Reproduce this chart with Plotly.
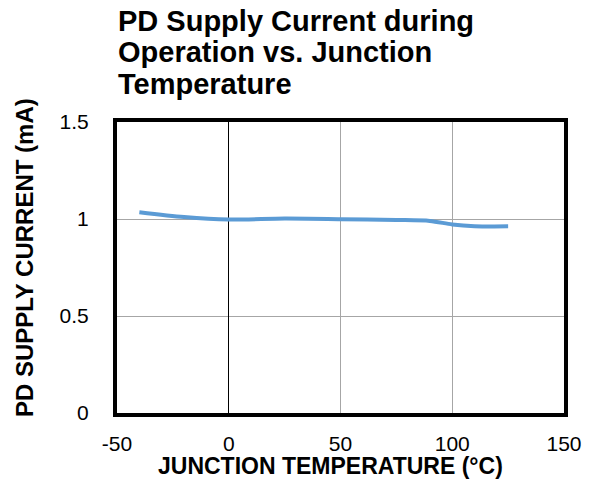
import plotly.graph_objects as go

temp_c = [-40, -20, 0, 25, 50, 75, 90, 100, 110, 125]
current_ma = [1.035, 1.01, 0.997, 1.002, 0.999, 0.995, 0.99, 0.972, 0.963, 0.962]

x_ticks = [-50, 0, 50, 100, 150]
y_ticks = [0, 0.5, 1, 1.5]
y_tick_text = ["0", "0.5", "1", "1.5"]
title_lines = ["PD Supply Current during", "Operation vs. Junction", "Temperature"]
x_title = "JUNCTION TEMPERATURE (°C)"
y_title = "PD SUPPLY CURRENT (mA)"

FONT = "Liberation Sans, Arial, sans-serif"

W, H = 594, 481
L, R, T, B = 117, 30, 122, 68
PW = W - L - R
PH = H - T - B

fig = go.Figure()
fig.add_trace(go.Scatter(
    x=temp_c, y=current_ma, mode="lines",
    line=dict(color="#5B9BD5", width=4, shape="spline", smoothing=0.8),
    showlegend=False, hoverinfo="skip",
))

fig.update_layout(
    width=W, height=H,
    margin=dict(l=L, r=R, t=T, b=B, autoexpand=False),
    paper_bgcolor="white", plot_bgcolor="white",
    font=dict(family=FONT, color="black"),
)

def px_x(fx):
    return (fx - L) / PW

def px_y(fy):
    return 1 + (T - fy) / PH

line_centers = [21.5, 52.5, 83.5]
for txt, fy in zip(title_lines, line_centers):
    fig.add_annotation(
        text=f"<b>{txt}</b>", xref="paper", yref="paper", borderpad=0,
        x=px_x(117), xanchor="left", y=px_y(fy), yanchor="middle",
        showarrow=False, font=dict(size=29, family=FONT, color="black"),
    )

fig.add_annotation(
    text=f"<b>{x_title}</b>", xref="paper", yref="paper", borderpad=0,
    x=px_x(330), xanchor="center", y=px_y(466), yanchor="middle",
    showarrow=False, font=dict(size=23, family=FONT, color="black"),
)
fig.add_annotation(
    text=f"<b>{y_title}</b>", xref="paper", yref="paper", textangle=-90, borderpad=0,
    x=px_x(24), xanchor="center", y=px_y(258), yanchor="middle",
    showarrow=False, font=dict(size=24, family=FONT, color="black"),
)

fig.update_xaxes(
    range=[-50, 150], tickvals=x_ticks, ticktext=[str(v) for v in x_ticks],
    showgrid=True, gridcolor="#A6A6A6", gridwidth=1,
    zeroline=True, zerolinecolor="black", zerolinewidth=1,
    showline=True, linecolor="black", linewidth=4, mirror=True,
    ticks="", ticklabelstandoff=9, automargin=False,
    tickfont=dict(size=21, family=FONT, color="black"),
)
fig.update_yaxes(
    range=[0, 1.5], tickvals=y_ticks, ticktext=y_tick_text,
    showgrid=True, gridcolor="#A6A6A6", gridwidth=1,
    zeroline=False,
    showline=True, linecolor="black", linewidth=4, mirror=True,
    ticks="", ticklabelstandoff=20, automargin=False,
    tickfont=dict(size=21, family=FONT, color="black"),
)

fig.write_html(
    "out.html",
    config={"displayModeBar": False},
    post_script="document.body.style.margin='0';document.body.style.overflow='hidden';",
)
